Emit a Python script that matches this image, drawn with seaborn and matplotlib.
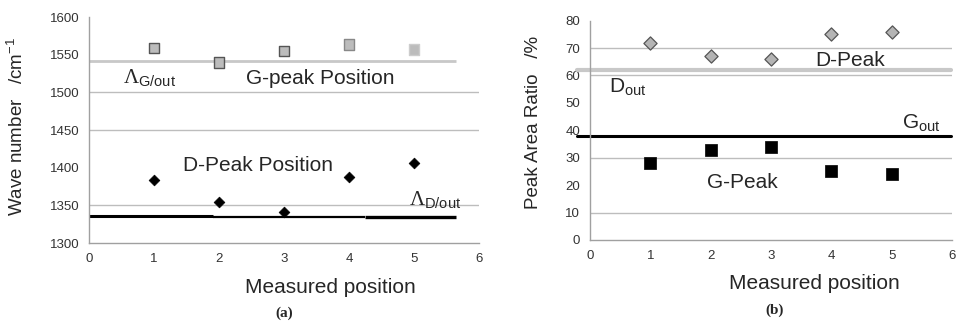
import matplotlib
matplotlib.use("Agg")
import matplotlib.pyplot as plt
import seaborn as sns
import pandas as pd

# Measured positions along the sample
positions = [1, 2, 3, 4, 5]

# (a) peak positions, wave number in cm^-1
g_peak_position = [1559, 1540, 1555, 1564, 1557]
d_peak_position = [1384, 1355, 1341, 1388, 1406]
g_out_position = 1541
d_out_position = [1335.5, 1334.8, 1334.0]
d_out_breaks = [0.0, 1.9, 4.25, 5.65]

# (b) peak area ratio in %
d_peak_ratio = [72, 67, 66, 75, 76]
g_peak_ratio = [28, 33, 34, 25, 24]
d_out_ratio = 62
g_out_ratio = 38

sns.set_theme(style="white")
plt.rcParams["font.family"] = ["Liberation Sans", "DejaVu Sans"]
plt.rcParams["mathtext.fontset"] = "custom"
plt.rcParams["mathtext.rm"] = "Liberation Serif"
plt.rcParams["mathtext.sf"] = "Liberation Sans"
plt.rcParams["mathtext.it"] = "Liberation Sans:italic"

df_a = pd.DataFrame({"pos": positions, "G": g_peak_position, "D": d_peak_position})
df_b = pd.DataFrame({"pos": positions, "D": d_peak_ratio, "G": g_peak_ratio})

fig = plt.figure(figsize=(9.59, 3.24), dpi=100)
ax1 = fig.add_axes([0.0928, 0.25, 0.4067, 0.6975])
ax2 = fig.add_axes([0.6152, 0.2593, 0.3775, 0.677])

grid_kw = dict(color="#bdbdbd", lw=1.0, zorder=0)
tick_color = "#333333"


def style_axes(ax):
    for side in ("top", "right"):
        ax.spines[side].set_visible(False)
    for side in ("left", "bottom"):
        ax.spines[side].set_color("#a0a0a0")
        ax.spines[side].set_linewidth(1.0)
    ax.tick_params(axis="both", which="major", direction="out", length=3,
                   width=0.8, color="#a0a0a0", labelsize=9.5,
                   labelcolor=tick_color, pad=4)
    ax.set_xlim(0, 6)
    ax.set_xticks(range(0, 7))
    ax.set_xlabel("Measured position", fontsize=15)
    ax.xaxis.set_label_coords(0.62, -0.155)


# ---- (a) peak positions ----
ax1.set_ylim(1300, 1600)
ax1.set_yticks(range(1300, 1601, 50))
for yv in (1350, 1450, 1500):
    ax1.axhline(yv, **grid_kw)

ax1.hlines(g_out_position, 0, 5.65, color="#c8c8c8", lw=2.0, zorder=1)
for i, yv in enumerate(d_out_position):
    ax1.hlines(yv, d_out_breaks[i], d_out_breaks[i + 1], color="black",
               lw=[2.2, 1.6, 2.4][i], zorder=1)

sns.scatterplot(data=df_a, x="pos", y="G", ax=ax1, marker="s", s=60,
                color="#bcbcbc", edgecolor=["#555555", "#555555", "#555555", "#888888", "#cccccc"],
                linewidth=1.0, zorder=3)
sns.scatterplot(data=df_a, x="pos", y="D", ax=ax1, marker="D", s=30,
                color="black", edgecolor="black", linewidth=0.5, zorder=3)

style_axes(ax1)
ax1.set_ylabel("Wave number   /cm$^{\\mathsf{-1}}$", fontsize=13.5)
ax1.yaxis.set_label_coords(-0.16, 0.515)

ax1.text(0.52, 1518, r"$\Lambda_{\mathsf{G/out}}$", fontsize=15, ha="left", va="center")
ax1.text(2.42, 1519, "G-peak Position", fontsize=15, ha="left", va="center")
ax1.text(1.45, 1403, "D-Peak Position", fontsize=15, ha="left", va="center")
ax1.text(4.92, 1357, r"$\Lambda_{\mathsf{D/out}}$", fontsize=15, ha="left", va="center")
ax1.text(0.5, -0.31, "(a)", transform=ax1.transAxes, fontsize=11,
         fontweight="bold", family="Liberation Serif", ha="center", va="center")

# ---- (b) peak area ratio ----
ax2.set_ylim(0, 80)
ax2.set_yticks(range(0, 81, 10))
for yv in (10, 30, 60, 70):
    ax2.axhline(yv, **grid_kw)

ax2.plot([-0.22, 5.98], [d_out_ratio, d_out_ratio], color="#c8c8c8", lw=3.0,
         zorder=1, clip_on=False)
ax2.plot([-0.22, 5.98], [g_out_ratio, g_out_ratio], color="black", lw=2.2,
         zorder=1, clip_on=False)

sns.scatterplot(data=df_b, x="pos", y="D", ax=ax2, marker="D", s=45,
                color="#b4b4b4", edgecolor="#555555", linewidth=0.9, zorder=3)
sns.scatterplot(data=df_b, x="pos", y="G", ax=ax2, marker="s", s=80,
                color="black", edgecolor="black", linewidth=0.5, zorder=3)

style_axes(ax2)
ax2.set_ylabel("Peak Area Ratio   /%", fontsize=13.5)
ax2.yaxis.set_label_coords(-0.133, 0.534)

ax2.text(3.73, 65.5, "D-Peak", fontsize=15, ha="left", va="center")
ax2.text(0.32, 55.5, r"$\mathsf{D}_{\mathsf{out}}$", fontsize=15, ha="left", va="center")
ax2.text(5.17, 42.5, r"$\mathsf{G}_{\mathsf{out}}$", fontsize=15, ha="left", va="center")
ax2.text(1.94, 21, "G-Peak", fontsize=15, ha="left", va="center")
ax2.text(0.51, -0.32, "(b)", transform=ax2.transAxes, fontsize=11,
         fontweight="bold", family="Liberation Serif", ha="center", va="center")

fig.savefig("out.png", dpi=100)
